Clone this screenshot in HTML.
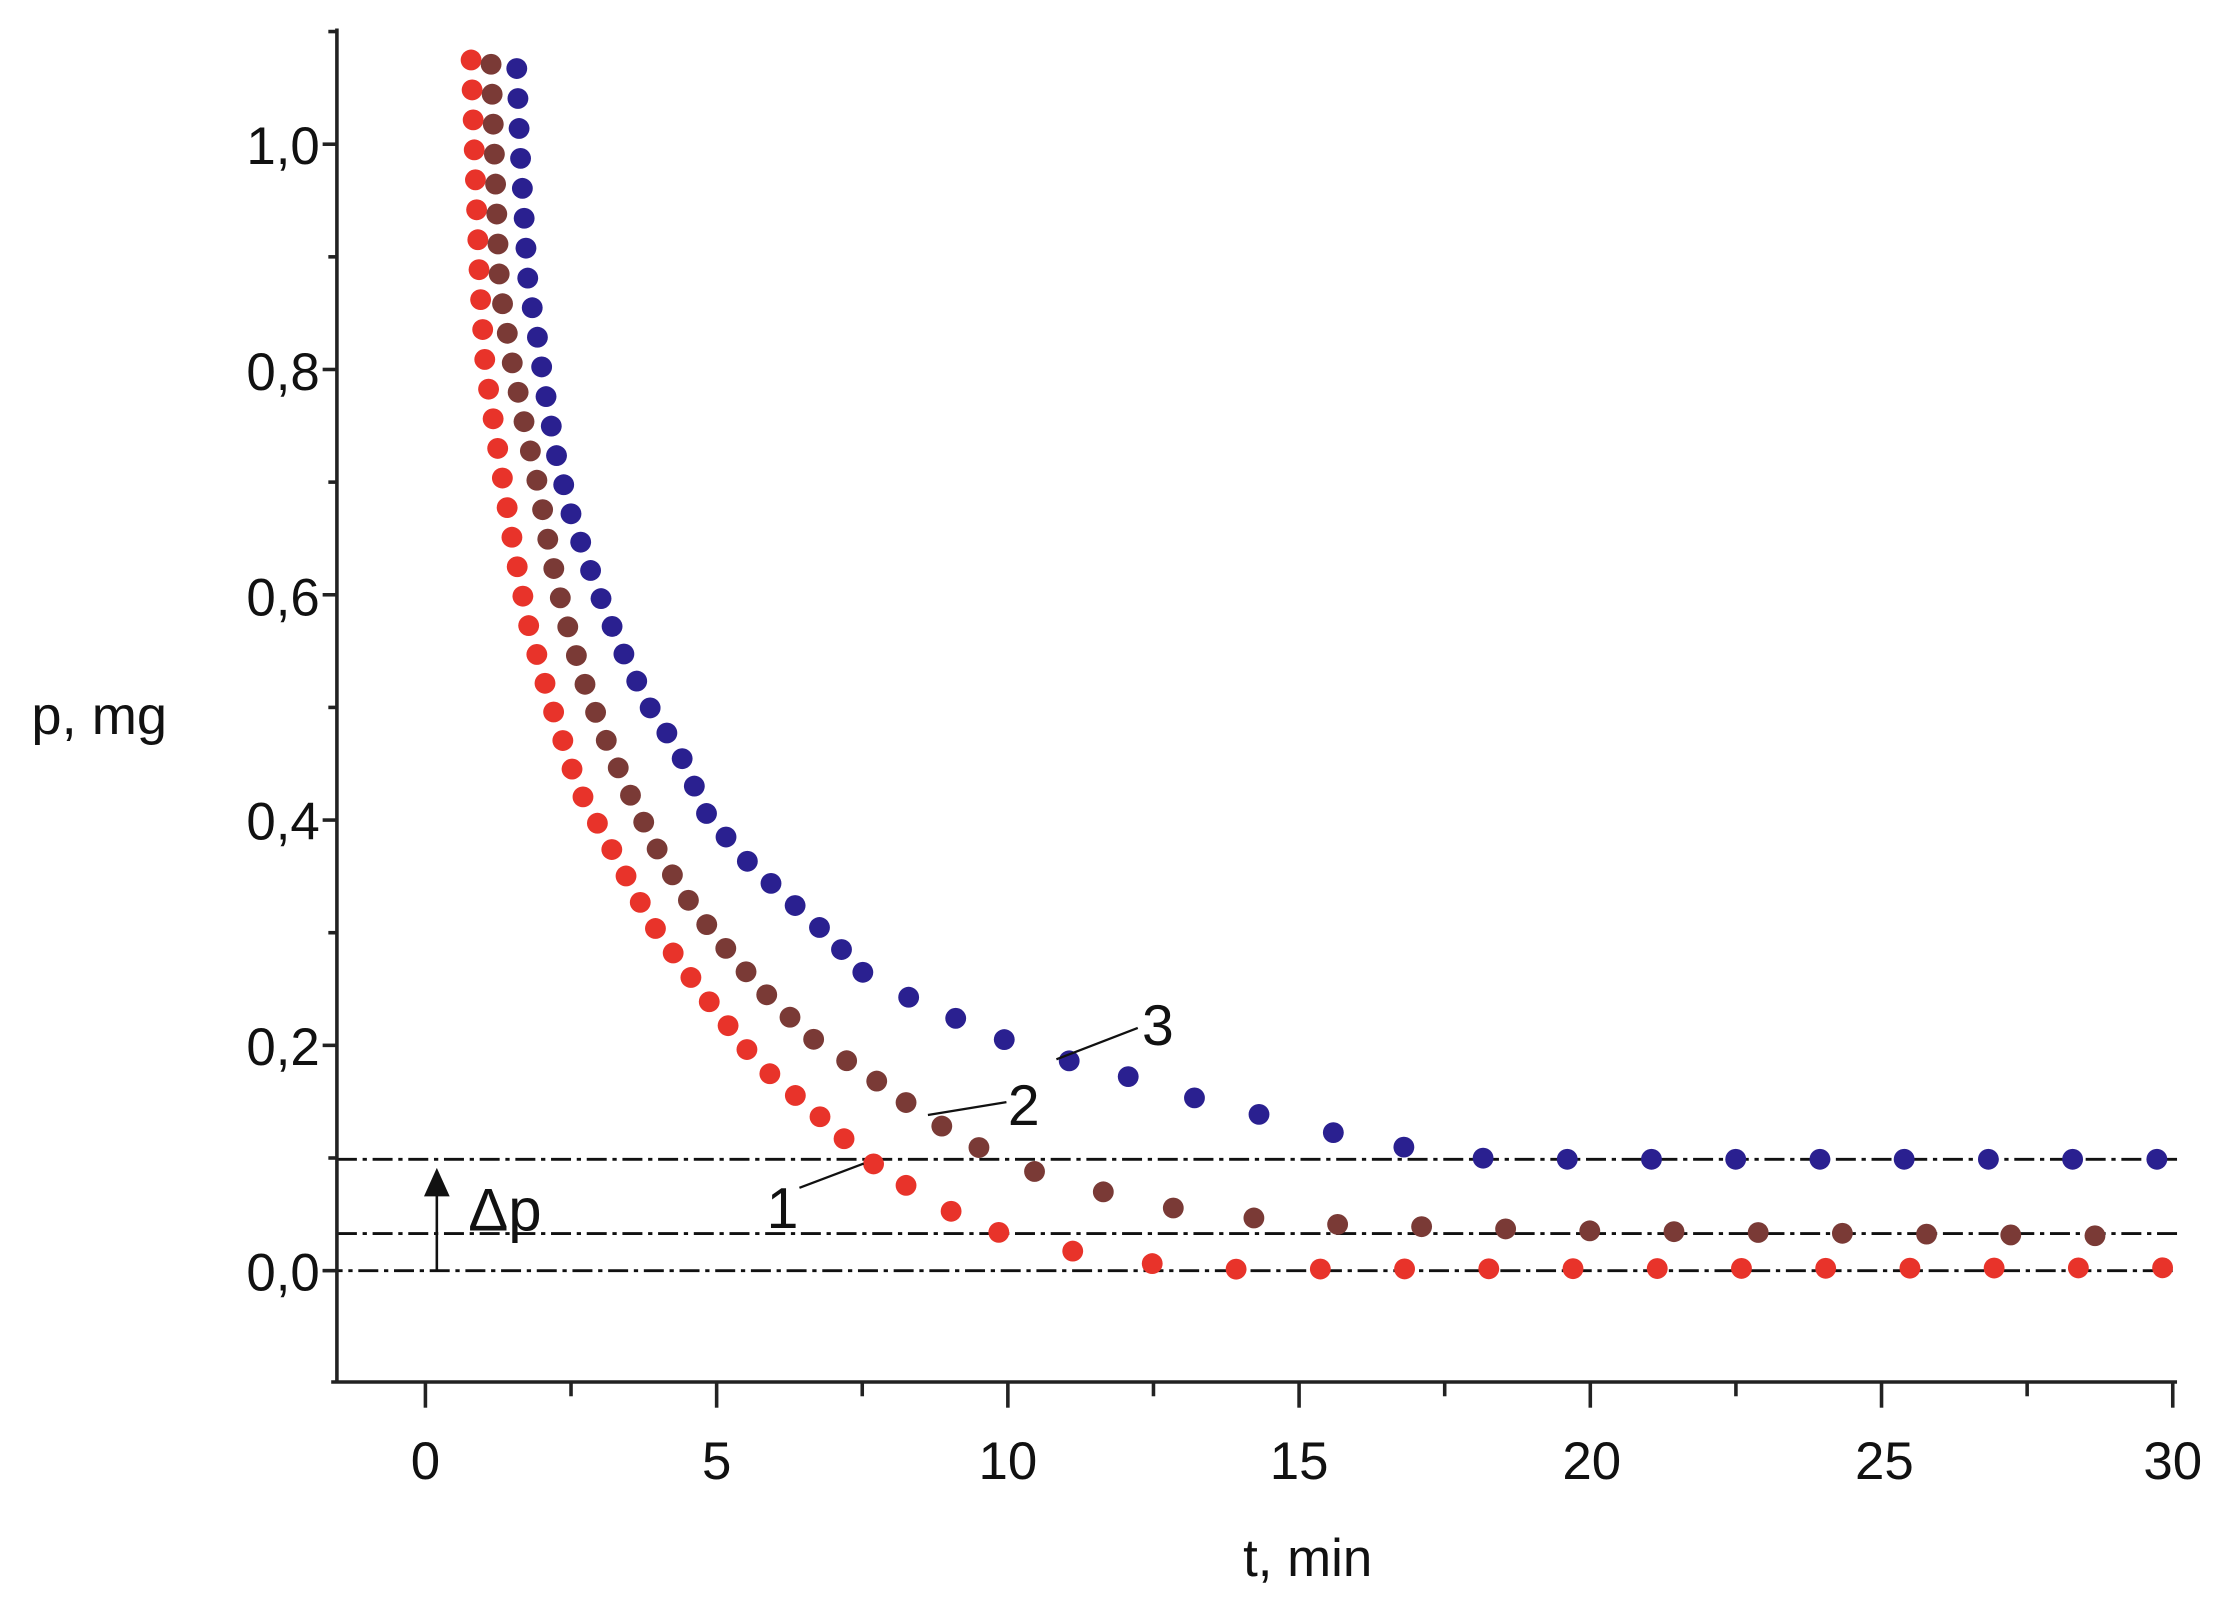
<!DOCTYPE html>
<html><head><meta charset="utf-8"><style>
html,body{margin:0;padding:0;background:#fff}
svg{display:block}
text{font-family:"Liberation Sans",sans-serif;fill:#111}
</style></head><body>
<svg id="s" width="2227" height="1609" viewBox="0 0 1560 1127" preserveAspectRatio="none">
<rect width="1560" height="1127" fill="#fff"/>
<g stroke="#111" stroke-width="2" stroke-dasharray="14,4,3,4" fill="none">
<line x1="236" y1="812" x2="1525" y2="812"/>
<line x1="236" y1="864" x2="1525" y2="864"/>
<line x1="226" y1="890" x2="1525" y2="890"/>
</g>
<g id="ax" stroke="#222" stroke-width="2.5" fill="none">
<line x1="236" y1="20" x2="236" y2="969"/>
<line x1="232" y1="968" x2="1525" y2="968"/>
</g>
<g font-size="37" text-anchor="end">
<text x="224" y="904">0,0</text>
<text x="224" y="746">0,2</text>
<text x="224" y="588">0,4</text>
<text x="224" y="431">0,6</text>
<text x="224" y="273">0,8</text>
<text x="224" y="115">1,0</text>
</g>
<g font-size="37" text-anchor="middle">
<text x="298" y="1036">0</text>
<text x="502" y="1036">5</text>
<text x="706" y="1036">10</text>
<text x="910" y="1036">15</text>
<text x="1115" y="1036">20</text>
<text x="1320" y="1036">25</text>
<text x="1522" y="1036">30</text>
<text x="916" y="1104">t, min</text>
</g>
<text x="22" y="514" font-size="38">p, mg</text>
<line x1="306" y1="890" x2="306" y2="830" stroke="#111" stroke-width="1.8"/>
<polygon points="297,838 315,838 306,818" fill="#111"/>
<text x="328" y="862" font-size="42">Δp</text>
<g id="dots"></g>
<g stroke="#111" stroke-width="1.6">
<line x1="740" y1="742" x2="797" y2="720"/>
<line x1="650" y1="781" x2="705" y2="772"/>
<line x1="560" y1="832" x2="605" y2="815"/>
</g>
<g font-size="40">
<text x="800" y="732">3</text>
<text x="706" y="788">2</text>
<text x="537" y="860">1</text>
</g>
</svg>
<script>
var NS="http://www.w3.org/2000/svg";
var ax=document.getElementById("ax");
function L(x1,y1,x2,y2){var l=document.createElementNS(NS,"line");l.setAttribute("x1",x1);l.setAttribute("y1",y1);l.setAttribute("x2",x2);l.setAttribute("y2",y2);ax.appendChild(l);}
for(var i=0;i<=6;i++){var x=298+i*204.0;L(x,968,x,986);if(i<6)L(x+102,968,x+102,978);}
for(var k=-1;k<=6;k++){var y=890-k*157.8;if(k>=0)L(226,y,236,y);var ym=y-78.9;if(ym>20&&ym<968)L(230,ym,236,ym);}
var series=[
["#e8332a",[[330,42],[332,100],[336,200],[340,258],[350,323],[360,385],[370,437],[385,490],[405,552],[428,594],[456,646],[490,693],[531,745],[572,780],[607,812],[654,843],[715,870],[790,883],[840,889],[1515,888]]],
["#7a3a36",[[344,45],[346,100],[350,200],[358,250],[368,300],[378,345],[385,385],[395,430],[410,480],[426,522],[443,560],[463,600],[485,635],[513,670],[540,700],[570,728],[607,752],[648,782],[700,812],[752,830],[830,848],[915,857],[1100,862],[1512,866]]],
["#2a2090",[[362,48],[364,100],[370,200],[376,233],[382,275],[390,320],[400,360],[412,395],[425,430],[440,465],[456,497],[475,525],[495,570],[520,600],[550,628],[580,655],[610,687],[640,700],[680,718],[717,734],[745,742],[790,754],[825,766],[880,780],[915,790],[955,797],[990,805],[1045,812],[1520,812]]]];
var g=document.getElementById("dots");
series.forEach(function(s){
 var pts=s[1],col=s[0];
 function dot(x,y){var c=document.createElementNS(NS,"circle");c.setAttribute("cx",x);c.setAttribute("cy",y);c.setAttribute("r",7.3);c.setAttribute("fill",col);g.appendChild(c);}
 dot(pts[0][0],pts[0][1]);
 var acc=0;
 for(var i=0;i<pts.length-1;i++){
  var x0=pts[i][0],y0=pts[i][1],x1=pts[i+1][0],y1=pts[i+1][1];
  var len=Math.hypot(x1-x0,y1-y0),c=Math.abs(x1-x0)/len;
  var sp=21+38*Math.pow(c,10);
  var pos=0;
  while(true){var rem=sp-acc; if(pos+rem>len){acc+=len-pos;break;} pos+=rem;acc=0;var f=pos/len;dot(x0+(x1-x0)*f,y0+(y1-y0)*f);}
 }
});
</script>
</body></html>
